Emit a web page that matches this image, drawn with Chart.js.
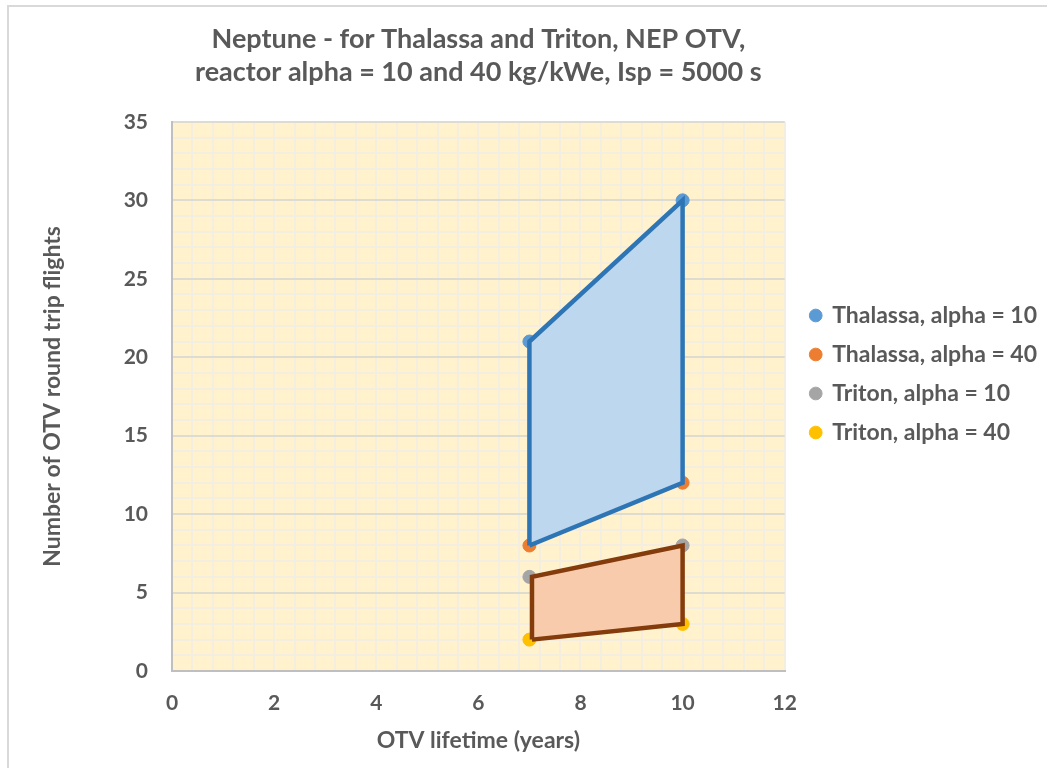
<!DOCTYPE html>
<html>
<head>
<meta charset="utf-8">
<title>Neptune - NEP OTV</title>
<script src="https://cdn.jsdelivr.net/npm/chart.js@4/dist/chart.umd.min.js"></script>
<style>
    body { margin: 0; background: #fff; }
    #frame {
        position: absolute; left: 7px; top: 5px; width: 1100px; height: 800px;
        border-left: 2px solid #d9d9d9; border-top: 2px solid #d9d9d9;
    }
    #wrap { position: absolute; left: 0; top: 0; width: 1047px; height: 768px; }
</style>
</head>
<body>
<div id="frame"></div>
<div id="wrap"><canvas id="chart"></canvas></div>
<script>
// OTV lifetime (years)
const lifetimes = [7, 10];
// Number of OTV round trip flights
const thalassa10 = [21, 30];
const thalassa40 = [8, 12];
const triton10 = [6, 8];
const triton40 = [2, 3];
// Corner x positions of the Triton shape as drawn
const tritonShapeX = [7.05, 10];

const seriesLabels = ['Thalassa, alpha = 10', 'Thalassa, alpha = 40', 'Triton, alpha = 10', 'Triton, alpha = 40'];
const seriesColors = ['#5b9bd5', '#ed7d31', '#a5a5a5', '#ffc000'];

const textColor = '#595959';
const fontFamily = 'Lato, "Open Sans", sans-serif';

function points(xs, ys) {
    return xs.map((x, i) => ({ x: x, y: ys[i] }));
}

// Closed outline: lower-left, upper-left, upper-right, lower-right
function shape(xs, upper, lower) {
    return [
        { x: xs[0], y: lower[0] },
        { x: xs[0], y: upper[0] },
        { x: xs[1], y: upper[1] },
        { x: xs[1], y: lower[1] },
        { x: xs[0], y: lower[0] }
    ];
}

// Plot area background
const plotBackground = {
    id: 'plotBackground',
    beforeDraw(chart) {
        const { ctx, chartArea } = chart;
        ctx.save();
        ctx.fillStyle = '#fff2cc';
        ctx.fillRect(chartArea.left, chartArea.top, chartArea.right - chartArea.left, chartArea.bottom - chartArea.top);
        ctx.restore();
    }
};

const pointSets = [thalassa10, thalassa40, triton10, triton40].map((ys, i) => ({
    label: seriesLabels[i],
    data: points(lifetimes, ys),
    backgroundColor: seriesColors[i],
    borderColor: seriesColors[i],
    pointRadius: 6.5,
    pointHoverRadius: 6.5,
    order: 1
}));

const ctx = document.getElementById('chart').getContext('2d');

new Chart(ctx, {
    type: 'scatter',
    data: {
        datasets: pointSets.concat([
            {
                label: 'Thalassa range',
                data: shape(lifetimes, thalassa10, thalassa40),
                showLine: true,
                fill: 'shape',
                backgroundColor: '#bdd7ee',
                borderColor: '#2e75b6',
                borderWidth: 4.5,
                pointRadius: 0,
                order: 0
            },
            {
                label: 'Triton range',
                data: shape(tritonShapeX, triton10, triton40),
                showLine: true,
                fill: 'shape',
                backgroundColor: '#f8cbad',
                borderColor: '#843c0c',
                borderWidth: 4.5,
                pointRadius: 0,
                order: 0
            }
        ])
    },
    options: {
        responsive: true,
        maintainAspectRatio: false,
        animation: false,
        layout: {
            padding: { left: 10, right: 0, top: 0, bottom: 20 }
        },
        plugins: {
            title: {
                display: true,
                fullSize: false,
                text: ['Neptune - for Thalassa and Triton, NEP OTV,', 'reactor alpha = 10 and 40 kg/kWe, Isp = 5000 s'],
                color: textColor,
                font: { family: fontFamily, size: 27, weight: 'bold', lineHeight: 1.22 },
                padding: { top: 23, bottom: 33 }
            },
            legend: {
                display: true,
                position: 'right',
                maxWidth: 300,
                labels: {
                    color: textColor,
                    font: { family: fontFamily, size: 23, weight: 'bold' },
                    usePointStyle: true,
                    pointStyle: 'circle',
                    boxWidth: 10,
                    boxHeight: 9,
                    padding: 16,
                    filter: item => item.datasetIndex < 4
                }
            },
            tooltip: { enabled: false }
        },
        scales: {
            x: {
                type: 'linear',
                min: 0,
                max: 12,
                afterFit: scale => { scale.height = 77; },
                ticks: {
                    stepSize: 0.4,
                    autoSkip: false,
                    maxRotation: 0,
                    padding: 20,
                    color: textColor,
                    font: { family: fontFamily, size: 21, weight: 'bold' },
                    callback: function(value) {
                        const r = Math.round(value);
                        return (Math.abs(value - r) < 1e-6 && r % 2 === 0) ? String(r) : '';
                    }
                },
                grid: {
                    drawTicks: false,
                    color: '#f3eee0',
                    lineWidth: 2
                },
                border: { color: '#bfbfbf', width: 2 },
                title: {
                    display: true,
                    text: 'OTV lifetime (years)',
                    color: textColor,
                    font: { family: fontFamily, size: 23, weight: 'bold' },
                    padding: { top: 0, bottom: -6 }
                }
            },
            y: {
                type: 'linear',
                min: 0,
                max: 35,
                afterFit: scale => { scale.width = 162; },
                ticks: {
                    stepSize: 1,
                    autoSkip: false,
                    padding: 24,
                    color: textColor,
                    font: { family: fontFamily, size: 21, weight: 'bold' },
                    callback: function(value) {
                        return value % 5 === 0 ? String(value) : '';
                    }
                },
                grid: {
                    drawTicks: false,
                    lineWidth: 2,
                    color: function(context) {
                        return context.tick && context.tick.value % 5 === 0 ? '#dedbd0' : '#f3eee0';
                    }
                },
                border: { color: '#bfbfbf', width: 2 },
                title: {
                    display: true,
                    text: 'Number of OTV round trip flights',
                    color: textColor,
                    font: { family: fontFamily, size: 23, weight: 'bold' },
                    padding: { top: 29, bottom: 0 }
                }
            },
            // empty gap between plot area and legend
            gap: {
                type: 'linear',
                position: 'right',
                afterFit: scale => { scale.width = 10; },
                grid: { display: false },
                ticks: { display: false },
                border: { display: false }
            }
        }
    },
    plugins: [plotBackground]
});
</script>
</body>
</html>
